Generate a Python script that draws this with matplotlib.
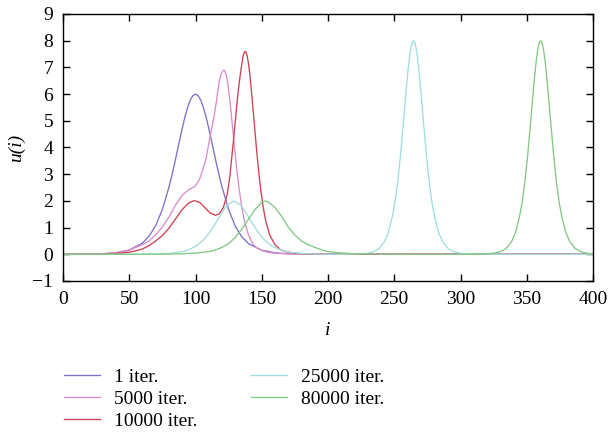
import matplotlib
matplotlib.use("Agg")
import matplotlib.pyplot as plt

plt.rcParams['font.family'] = ['Liberation Serif', 'DejaVu Serif']
plt.rcParams['font.size'] = 14

labels = ['1 iter.', '5000 iter.', '10000 iter.', '25000 iter.', '80000 iter.']
colors = ['#7b72c9', '#dd8ccb', '#d0404f', '#a0dede', '#82c982']

# 1 iter.
i_1 = [0, 20, 30, 40, 50, 60, 65, 70, 75, 80, 82, 84, 86, 88, 90, 92, 94, 96, 98, 100,
       102, 104, 106, 108, 110, 112, 114, 116, 118, 120, 125, 130, 135, 140, 150, 160,
       170, 180, 200, 250, 300, 350, 400]
u_1 = [0, 0.008, 0.022, 0.06, 0.16, 0.42, 0.68, 1.08, 1.68, 2.52, 2.92, 3.35, 3.81, 4.27, 4.72, 5.14, 5.49, 5.77, 5.94, 6.0,
       5.94, 5.77, 5.49, 5.14, 4.72, 4.27, 3.81, 3.35, 2.92, 2.52, 1.68, 1.05, 0.65, 0.4, 0.15, 0.055,
       0.02, 0.008, 0.001, 0, 0, 0, 0]

# 5000 iter.
i_2 = [0, 20, 30, 40, 50, 55, 60, 65, 70, 75, 80, 85, 90, 95, 100, 103, 106, 108, 110, 112,
       114, 116, 117, 118, 119, 120, 121, 121.5, 122, 123, 124, 125, 126, 127, 128, 129, 130,
       131, 132, 133, 135, 137, 140, 143, 146, 150, 155, 160, 170, 180, 200, 250, 300, 350, 400]
u_2 = [0, 0.005, 0.02, 0.06, 0.15, 0.26, 0.36, 0.5, 0.74, 1.02, 1.4, 1.85, 2.22, 2.42, 2.56, 2.8, 3.25, 3.6, 4.15, 4.65,
       5.15, 5.8, 6.18, 6.5, 6.7, 6.83, 6.89, 6.9, 6.88, 6.75, 6.51, 6.16, 5.73, 5.25, 4.74, 4.23, 3.73,
       3.26, 2.82, 2.42, 1.74, 1.23, 0.72, 0.41, 0.25, 0.14, 0.07, 0.04, 0.015, 0.005, 0, 0, 0, 0, 0]

# 10000 iter.
i_3 = [0, 20, 30, 40, 50, 55, 60, 65, 70, 75, 80, 85, 90, 95, 99, 103, 107, 111, 115, 118, 121,
       124, 126, 128, 130, 131, 132, 133, 134, 135, 136, 137, 137.5, 138, 139, 140, 141, 142,
       143, 144, 145, 146, 147, 149, 151, 153, 156, 160, 164, 168, 175, 185, 200, 250, 300, 350, 400]
u_3 = [0, 0.005, 0.01, 0.03, 0.08, 0.13, 0.2, 0.33, 0.5, 0.7, 0.98, 1.33, 1.68, 1.93, 2.01, 1.95, 1.75, 1.55, 1.46, 1.52, 1.75,
       2.25, 2.95, 3.95, 4.95, 5.5, 6.0, 6.42, 6.8, 7.14, 7.43, 7.58, 7.6, 7.58, 7.43, 7.14, 6.74, 6.25,
       5.69, 5.12, 4.53, 3.97, 3.44, 2.52, 1.79, 1.25, 0.72, 0.36, 0.18, 0.1, 0.04, 0.01, 0, 0, 0, 0, 0]

# 25000 iter.
i_4 = [0, 50, 60, 70, 80, 90, 95, 100, 105, 110, 115, 120, 124, 129, 134, 138, 143, 148, 153, 158,
       163, 170, 180, 190, 200, 210, 219.5, 229.5, 234.5, 238.5, 242.5, 245.5, 248.5, 250.5, 252.5,
       254.5, 256.5, 257.5, 258.5, 259.5, 260.5, 261.5, 262.5, 263.5, 264.5, 265.5, 266.5, 267.5,
       268.5, 269.5, 270.5, 271.5, 272.5, 274.5, 276.5, 278.5, 280.5, 283.5, 286.5, 290.5, 294.5,
       299.5, 309.5, 320, 350, 400]
u_4 = [0, 0.001, 0.004, 0.011, 0.034, 0.1, 0.175, 0.3, 0.49, 0.77, 1.15, 1.57, 1.85, 2.0, 1.85, 1.57, 1.15, 0.77, 0.49, 0.3,
       0.19, 0.082, 0.028, 0.009, 0.003, 0.001, 0.006, 0.04, 0.105, 0.22, 0.47, 0.81, 1.4, 1.94, 2.67,
       3.61, 4.7, 5.29, 5.86, 6.43, 6.95, 7.38, 7.72, 7.93, 8.0, 7.93, 7.72, 7.38,
       6.95, 6.43, 5.86, 5.29, 4.7, 3.61, 2.67, 1.94, 1.4, 0.81, 0.47, 0.22, 0.105,
       0.04, 0.006, 0, 0, 0]

# 80000 iter.
i_5 = [0, 50, 70, 80, 90, 100, 110, 115, 120, 125, 130, 135, 140, 145, 150, 152.5, 155, 160, 165,
       170, 175, 180, 185, 190, 195, 200, 210, 220, 230, 240, 250, 260, 300, 315.5, 325.5, 330.5,
       334.5, 338.5, 341.5, 344.5, 346.5, 348.5, 350.5, 352.5, 353.5, 354.5, 355.5, 356.5, 357.5,
       358.5, 359.5, 360.5, 361.5, 362.5, 363.5, 364.5, 365.5, 366.5, 367.5, 368.5, 370.5, 372.5,
       374.5, 376.5, 379.5, 382.5, 386.5, 390.5, 395.5, 400]
u_5 = [0, 0.002, 0.006, 0.01, 0.02, 0.045, 0.1, 0.16, 0.26, 0.4, 0.63, 0.95, 1.32, 1.68, 1.94, 2.0, 1.96, 1.75, 1.42,
       1.02, 0.72, 0.5, 0.36, 0.26, 0.17, 0.1, 0.05, 0.02, 0.008, 0.003, 0.001, 0, 0, 0.006, 0.04, 0.105,
       0.22, 0.47, 0.81, 1.4, 1.94, 2.67, 3.61, 4.7, 5.29, 5.86, 6.43, 6.95, 7.38,
       7.72, 7.93, 8.0, 7.93, 7.72, 7.38, 6.95, 6.43, 5.86, 5.29, 4.7, 3.61, 2.67,
       1.94, 1.4, 0.81, 0.47, 0.22, 0.105, 0.04, 0.015]

x_ticks = [0, 50, 100, 150, 200, 250, 300, 350, 400]
y_ticks = [-1, 0, 1, 2, 3, 4, 5, 6, 7, 8, 9]

fig = plt.figure(figsize=(6.08, 4.32), dpi=100)
ax = fig.add_axes([63 / 608, 1 - 281 / 432, 530 / 608, 267 / 432])

series = [(i_1, u_1), (i_2, u_2), (i_3, u_3), (i_4, u_4), (i_5, u_5)]
for (xs, ys), lab, col in zip(series, labels, colors):
    ax.plot(xs, ys, color=col, lw=0.95, label=lab, solid_joinstyle='round')

ax.set_xlim(0, 400)
ax.set_ylim(-1, 9)
ax.set_xticks(x_ticks)
ax.set_yticks(y_ticks)
ax.set_yticklabels(['\u22121' if t < 0 else str(t) for t in y_ticks])
ax.tick_params(direction='in', top=True, right=True, length=5, width=1, pad=7)
for s in ax.spines.values():
    s.set_linewidth(1.0)

ax.set_xlabel('i', fontstyle='italic')
ax.xaxis.set_label_coords(0.5, -0.155)
ax.set_ylabel('u(i)', fontstyle='italic')
ax.yaxis.set_label_coords(-0.072, 0.5)

fig.legend(loc='upper left', bbox_to_anchor=(64 / 608, 1 - 368 / 432), ncol=2,
           frameon=False, handlelength=1.85, handletextpad=0.7, columnspacing=2.8,
           labelspacing=0.23, borderpad=0, borderaxespad=0)

fig.savefig('out.png', dpi=100)
